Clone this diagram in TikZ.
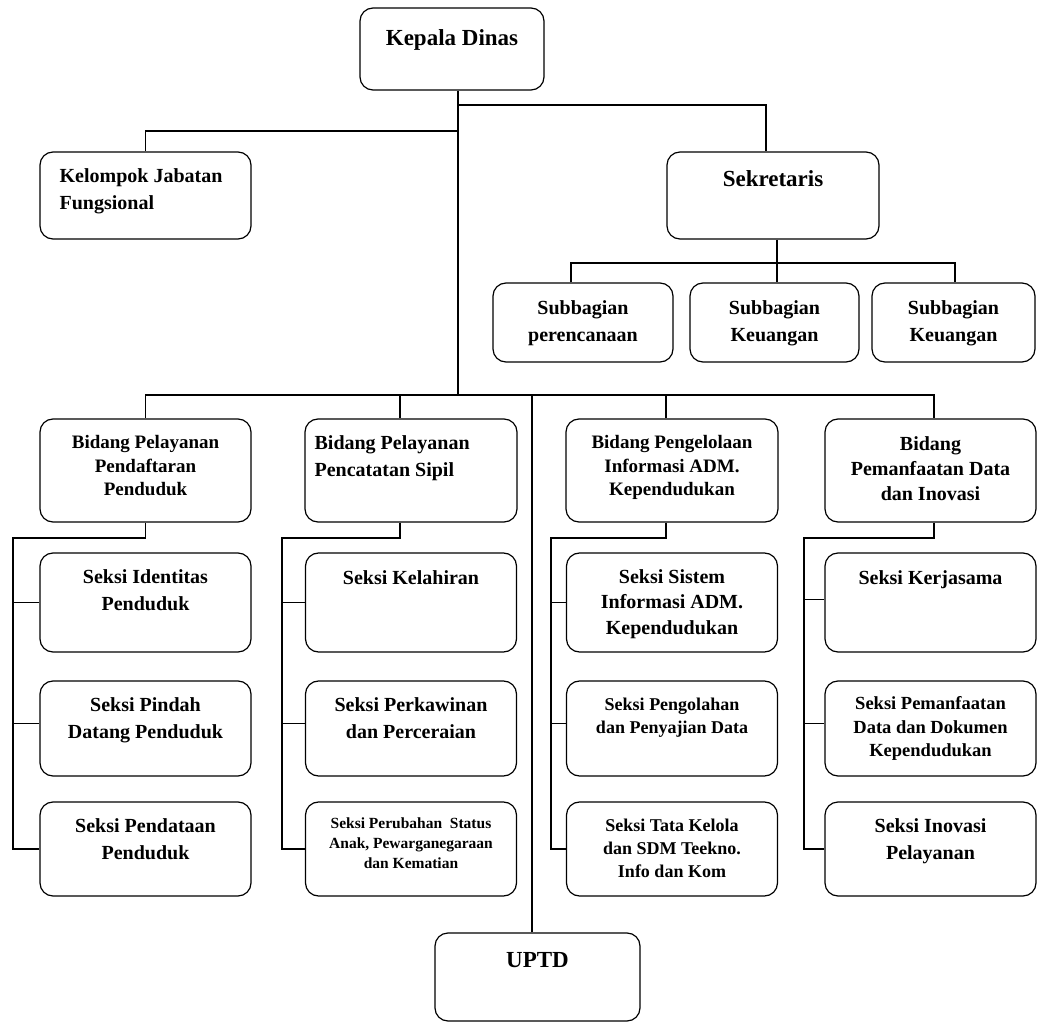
\documentclass[tikz,border=0pt]{standalone}
\usepackage{fontspec}
\setmainfont{Liberation Serif}
\usetikzlibrary{positioning}
\tikzset{unit/.style={draw,rounded corners=13pt,line width=1.2pt,inner sep=0pt}}
\tikzset{seksi/.style={unit,minimum width=211pt}}
\tikzset{wire/.style={line width=1.2pt}}
\tikzset{lbl/.style={inner sep=0pt,align=center,font=\bfseries\fontsize{20}{27}\selectfont}}
\tikzset{lblhead/.style={lbl,font=\bfseries\fontsize{23}{28}\selectfont}}
\tikzset{lblmid/.style={lbl,font=\bfseries\fontsize{19}{23.5}\selectfont}}
\tikzset{lblsmall/.style={lbl,font=\bfseries\fontsize{15.5}{20}\selectfont}}

\begin{document}
\begin{tikzpicture}[x=1pt,y=-1pt]
		\useasboundingbox (0,0) rectangle (1037,1024);

		% top
		\node[unit,minimum width=184pt,minimum height=82pt](kd) at (452,49){};
		\node[unit,minimum width=211pt,minimum height=87pt](kjf) at (145.5,195.5){};
		\node[unit,minimum width=212pt,minimum height=87pt](sek) at (773,195.5){};

		\node[unit,minimum width=180pt,minimum height=79pt](sub1) at (583,322.5){};
		\node[unit,minimum width=169pt,minimum height=79pt](sub2) at (774.5,322.5){};
		\node[unit,minimum width=163pt,minimum height=79pt](sub3) at (953.5,322.5){};

		% bidang
		\node[seksi,minimum height=103pt](b1) at (145.5,470.5){};
		\node[seksi,minimum height=103pt,minimum width=212pt](b2) at (411,470.5){};
		\node[seksi,minimum height=103pt,minimum width=212pt](b3) at (672,470.5){};
		\node[seksi,minimum height=103pt](b4) at (930.5,470.5){};

		% seksi
		\node[seksi,minimum height=99pt](s11) at (145.5,602.5){};
		\node[seksi,minimum height=95pt](s12) at (145.5,728.5){};
		\node[seksi,minimum height=94pt](s13) at (145.5,849){};

		\node[seksi,minimum height=99pt](s21) at (411,602.5){};
		\node[seksi,minimum height=95pt](s22) at (411,728.5){};
		\node[seksi,minimum height=94pt](s23) at (411,849){};

		\node[seksi,minimum height=99pt](s31) at (672,602.5){};
		\node[seksi,minimum height=95pt](s32) at (672,728.5){};
		\node[seksi,minimum height=94pt](s33) at (672,849){};

		\node[seksi,minimum height=99pt](s41) at (930.5,602.5){};
		\node[seksi,minimum height=95pt](s42) at (930.5,728.5){};
		\node[seksi,minimum height=94pt](s43) at (930.5,849){};

		\node[unit,minimum width=205pt,minimum height=88pt](uptd) at (537.5,977){};

		% texts
		\node[lblhead,below=22pt of kd.north](kdt){Kepala Dinas};
		\node[lbl,align=left,below right=17pt and 20pt of kjf.north west](kjft){Kelompok Jabatan\\Fungsional};
		\node[lblhead,below=19pt of sek.north](sekt){Sekretaris};
		\node[lbl,below=18pt of sub1.north](sub1t){Subbagian\\perencanaan};
		\node[lbl,below=18pt of sub2.north](sub2t){Subbagian\\Keuangan};
		\node[lbl,below=18pt of sub3.north](sub3t){Subbagian\\Keuangan};

		\node[lblmid,below=17pt of b1.north](b1t){Bidang Pelayanan\\Pendaftaran\\Penduduk};
		\node[lbl,align=left,below right=17pt and 10pt of b2.north west](b2t){Bidang Pelayanan\\Pencatatan Sipil};
		\node[lblmid,below=17pt of b3.north](b3t){Bidang Pengelolaan\\Informasi ADM.\\Kependudukan};
		\node[lbl,font=\bfseries\fontsize{20}{25}\selectfont,below=18pt of b4.north](b4t){Bidang\\Pemanfaatan Data\\dan Inovasi};

		\node[lbl,below=17pt of s11.north](s11t){Seksi Identitas\\Penduduk};
		\node[lbl,below=17pt of s12.north](s12t){Seksi Pindah\\Datang Penduduk};
		\node[lbl,below=17pt of s13.north](s13t){Seksi Pendataan\\Penduduk};

		\node[lbl,below=18pt of s21.north](s21t){Seksi Kelahiran};
		\node[lbl,below=17pt of s22.north](s22t){Seksi Perkawinan\\dan Perceraian};
		\node[lblsmall,below=16pt of s23.north](s23t){Seksi Perubahan\ \ Status\\Anak, Pewarganegaraan\\dan Kematian};

		\node[lbl,font=\bfseries\fontsize{20}{25.5}\selectfont,below=17pt of s31.north](s31t){Seksi Sistem\\Informasi ADM.\\Kependudukan};
		\node[lbl,font=\bfseries\fontsize{18}{23}\selectfont,below=17pt of s32.north](s32t){Seksi Pengolahan\\dan Penyajian Data};
		\node[lbl,font=\bfseries\fontsize{18}{23}\selectfont,below=17pt of s33.north](s33t){Seksi Tata Kelola\\dan SDM Teekno.\\Info dan Kom};

		\node[lbl,below=18pt of s41.north](s41t){Seksi Kerjasama};
		\node[lbl,font=\bfseries\fontsize{18.5}{23.5}\selectfont,below=16pt of s42.north](s42t){Seksi Pemanfaatan\\Data dan Dokumen\\Kependudukan};
		\node[lbl,below=17pt of s43.north](s43t){Seksi Inovasi\\Pelayanan};

		\node[lblhead,below=20pt of uptd.north](uptdt){UPTD};

		% connectors
		\coordinate (j1) at (458,131);
		\coordinate (j2) at (458,105);
		\coordinate (bar) at (458,395);
		\coordinate (sj) at (777,263);

		\draw[wire] (kd.south -| bar) -- (bar);
		\draw[wire] (j1) -| (kjf.north);
		\draw[wire] (j2) -| ([xshift=-7pt]sek.north);

		\draw[wire] (sek.south -| sj) -- (sj);
		\draw[wire] ([xshift=-12pt]sub1.north) |- (sj) -| ([xshift=1.5pt]sub3.north);
		\draw[wire] (sj) -- (sj |- sub2.north);

		\draw[wire] (b1.north) |- (bar) -| ([xshift=3.5pt]b4.north);
		\draw[wire] ([xshift=-11pt]b2.north) -- ([xshift=-11pt]b2.north |- bar);
		\draw[wire] ([xshift=-6pt]b3.north) -- ([xshift=-6pt]b3.north |- bar);
		\draw[wire] ([xshift=-5.5pt]uptd.north) -- ([xshift=-5.5pt]uptd.north |- bar);

		\coordinate (rail1) at (13,538);
		\coordinate (rail2) at (282,538);
		\coordinate (rail3) at (551,538);
		\coordinate (rail4) at (804,538);

		\draw[wire] (b1.south) |- (rail1) |- (s13.west);
		\draw[wire] (rail1 |- s11.west) -- (s11.west);
		\draw[wire] ([yshift=5pt]rail1 |- s12.west) -- ([yshift=5pt]s12.west);

		\draw[wire] ([xshift=-11pt]b2.south) |- (rail2) |- (s23.west);
		\draw[wire] (rail2 |- s21.west) -- (s21.west);
		\draw[wire] ([yshift=5pt]rail2 |- s22.west) -- ([yshift=5pt]s22.west);

		\draw[wire] ([xshift=-6pt]b3.south) |- (rail3) |- (s33.west);
		\draw[wire] (rail3 |- s31.west) -- (s31.west);
		\draw[wire] ([yshift=5pt]rail3 |- s32.west) -- ([yshift=5pt]s32.west);

		\draw[wire] ([xshift=3.5pt]b4.south) |- (rail4) |- (s43.west);
		\draw[wire] ([yshift=3pt]rail4 |- s41.west) -- ([yshift=3pt]s41.west);
		\draw[wire] ([yshift=5pt]rail4 |- s42.west) -- ([yshift=5pt]s42.west);
\end{tikzpicture}
\end{document}
